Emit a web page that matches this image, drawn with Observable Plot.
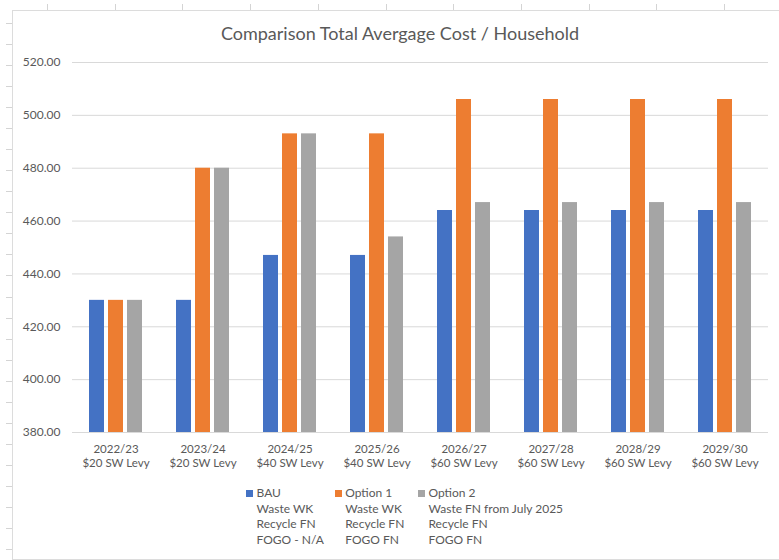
<!DOCTYPE html>
<html>
<head>
<meta charset="utf-8">
<script src="https://cdn.jsdelivr.net/npm/d3@7"></script>
<script src="https://cdn.jsdelivr.net/npm/@observablehq/plot@0.6"></script>
<style>
  body { margin: 0; background: #fff; font-family: Lato, "Open Sans", sans-serif; }
  #sheet { position: relative; width: 779px; height: 560px; overflow: hidden; background: #fff; }
  #frame { position: absolute; left: 12px; top: 10px; width: 800px; height: 548px;
           border-left: 1.5px solid #dcdcdc; border-top: 1.5px solid #dcdcdc; border-bottom: 1.5px solid #dcdcdc; background: #fff; }
  .tick-top { position: absolute; top: 4px; width: 1px; height: 6px; background: #d4d4d4; }
  .tick-left { position: absolute; left: 6px; width: 6px; height: 1px; background: #d4d4d4; }
  #title { position: absolute; left: 21px; width: 758px; top: 22px; text-align: center;
           font-size: 18px; color: #595959; }
  #chart { position: absolute; left: 0; top: 0; }
  #legend { position: absolute; left: 246px; top: 485px; display: flex; font-size: 12px; color: #595959; }
  #legend .col { display: flex; }
  #legend .swatch { width: 7px; height: 7px; margin-top: 4.5px; margin-right: 3.5px; flex: none; }
  #legend .lines div { line-height: 15.5px; white-space: nowrap; }
</style>
</head>
<body>
<div id="sheet">
  <div id="frame"></div>
  <div id="title">Comparison Total Avergage Cost / Household</div>
  <div id="chart"></div>
  <div id="legend"></div>
</div>
<script>
// Financial years and the state waste levy applying in each
const years = ["2022/23", "2023/24", "2024/25", "2025/26", "2026/27", "2027/28", "2028/29", "2029/30"];
const levies = ["$20 SW Levy", "$20 SW Levy", "$40 SW Levy", "$40 SW Levy", "$60 SW Levy", "$60 SW Levy", "$60 SW Levy", "$60 SW Levy"];

// Service options and their collection arrangements
const seriesNames = ["BAU", "Option 1", "Option 2"];
const seriesNotes = [
  ["Waste WK", "Recycle FN", "FOGO - N/A"],
  ["Waste WK", "Recycle FN", "FOGO FN"],
  ["Waste FN from July 2025", "Recycle FN", "FOGO FN"]
];
const seriesColors = ["#4472C4", "#ED7D31", "#A5A5A5"];

// Average cost per household ($) for each year
const bau     = [430, 430, 447, 447, 464, 464, 464, 464];
const option1 = [430, 480, 493, 493, 506, 506, 506, 506];
const option2 = [430, 480, 493, 454, 467, 467, 467, 467];

// Value axis
const yTicks = [380, 400, 420, 440, 460, 480, 500, 520];
const yMin = 380, yMax = 520;

const seriesValues = [bau, option1, option2];
const rows = years.flatMap((year, i) =>
  seriesNames.map((series, s) => ({year, series, value: seriesValues[s][i]}))
);

// Spreadsheet cell edges around the chart object
const sheet = document.getElementById("sheet");
for (let x = 47; x < 779; x += 67.7) {
  const t = document.createElement("div");
  t.className = "tick-top"; t.style.left = x + "px"; sheet.appendChild(t);
}
for (let y = 23; y < 560; y += 21.04) {
  const t = document.createElement("div");
  t.className = "tick-left"; t.style.top = y + "px"; sheet.appendChild(t);
}

const ink = "#595959";
const chart = Plot.plot({
  width: 779,
  height: 480,
  marginTop: 62,
  marginBottom: 48,
  marginLeft: 68,
  marginRight: 8,
  style: {background: "transparent", fontFamily: "Lato, 'Open Sans', sans-serif", fontSize: "12px"},
  fx: {domain: years, paddingInner: 0, paddingOuter: 0, axis: null, label: null},
  x: {domain: seriesNames, paddingInner: 0, paddingOuter: 0.697, axis: null, label: null},
  y: {domain: [yMin, yMax], axis: null, label: null},
  color: {domain: seriesNames, range: seriesColors},
  marks: [
    Plot.gridY(yTicks, {stroke: "#d9d9d9", strokeOpacity: 1, strokeWidth: 1}),
    Plot.barY(rows, {fx: "year", x: "series", y1: yMin, y2: "value", fill: "series", insetLeft: 2, insetRight: 2}),
    Plot.axisY(yTicks, {tickSize: 0, tickPadding: 12, tickFormat: d => d.toFixed(2), fill: ink, fontSize: 12, label: null}),
    Plot.axisFx({anchor: "bottom", tickSize: 0, tickPadding: 10, lineHeight: 1.25, fill: ink, fontSize: 11.5, label: null,
                 tickFormat: d => `${d}\n${levies[years.indexOf(d)]}`})
  ]
});
document.getElementById("chart").appendChild(chart);

// Legend: one column per option, swatch beside the name, arrangements beneath
const legend = document.getElementById("legend");
const colWidths = [88.7, 83.3, 160];
seriesNames.forEach((name, s) => {
  const col = document.createElement("div");
  col.className = "col";
  col.style.width = colWidths[s] + "px";
  const sw = document.createElement("div");
  sw.className = "swatch";
  sw.style.background = seriesColors[s];
  const lines = document.createElement("div");
  lines.className = "lines";
  [name, ...seriesNotes[s]].forEach(t => {
    const l = document.createElement("div");
    l.textContent = t;
    lines.appendChild(l);
  });
  col.appendChild(sw);
  col.appendChild(lines);
  legend.appendChild(col);
});
</script>
</body>
</html>
